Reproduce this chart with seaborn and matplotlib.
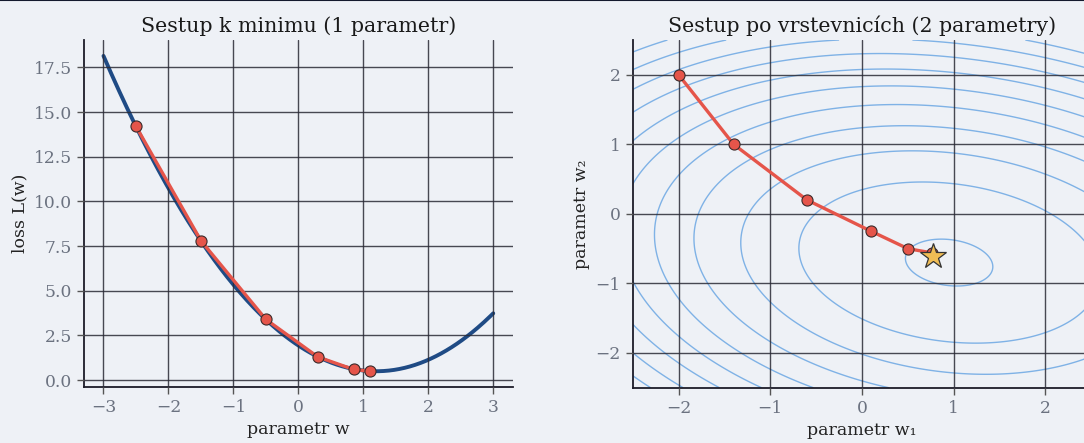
import matplotlib
matplotlib.use("Agg")
import matplotlib.pyplot as plt
import seaborn as sns
import numpy as np
from matplotlib.lines import Line2D

# ---- data -------------------------------------------------------------
# left panel: 1D loss curve L(w) = a*(w - w_min)^2 + L_min
curve_coef = [1.0, 1.2, 0.5]          # a, w_min, L_min
curve_range = [-3, 3]
steps_w = [-2.5, -1.5, -0.5, 0.3, 0.85, 1.1]
steps_L = [14.2, 7.8, 3.4, 1.3, 0.6, 0.5]

# right panel: quadratic bowl a*dx^2 + b*dy^2 + c*dx*dy around a centre
bowl_coef = [1.0, 2.0, 0.5]           # a, b, c
bowl_centre = [0.95, -0.7]
contour_levels = [0.22, 2.6, 5, 7.5, 10, 12.5, 15, 17.5, 20, 22.5, 25, 27.5, 30]
path_w1 = [-2.0, -1.4, -0.6, 0.1, 0.5, 0.76]
path_w2 = [2.0, 1.0, 0.2, -0.25, -0.5, -0.56]
star_w = [0.77, -0.6]

# ---- style ------------------------------------------------------------
bg = "#eef1f6"
sns.set_theme(style="whitegrid", rc={
    "axes.facecolor": bg,
    "figure.facecolor": bg,
    "axes.edgecolor": "#1c1c28",
    "grid.color": "#2a2a35",
    "grid.alpha": 0.85,
    "grid.linewidth": 1.0,
    "xtick.color": "#6b7280",
    "ytick.color": "#6b7280",
    "xtick.bottom": True,
    "ytick.left": True,
    "xtick.major.size": 5,
    "ytick.major.size": 5,
    "axes.labelcolor": "#222222",
})
plt.rcParams["font.family"] = ["DejaVu Serif"]

fig = plt.figure(figsize=(10.84, 4.43), dpi=100)
ax1 = fig.add_axes([0.0775, 0.1264, 0.3955, 0.783])
ax2 = fig.add_axes([0.5837, 0.1247, 0.423, 0.785])

red = "#e5554a"
navy = "#1f4b85"

# left panel
a, wm, Lm = curve_coef
w = np.linspace(curve_range[0], curve_range[1], 300)
sns.lineplot(x=w, y=a * (w - wm) ** 2 + Lm, ax=ax1, color=navy, lw=2.8)
ax1.plot(steps_w, steps_L, color=red, lw=2.4, marker="o", ms=8,
         mfc=red, mec="#3a2a2a", mew=0.8, zorder=4)
ax1.set_title("Sestup k minimu (1 parametr)", fontsize=14.8, color="#1a1a1a")
ax1.set_xlabel("parametr w", fontsize=12.5, labelpad=4)
ax1.set_ylabel("loss L(w)", fontsize=12.5)
ax1.set_yticks([0, 2.5, 5, 7.5, 10, 12.5, 15, 17.5])

# right panel
g1 = np.linspace(-2.5, 2.5, 400)
G1, G2 = np.meshgrid(g1, g1)
ba, bb, bc = bowl_coef
dx, dy = G1 - bowl_centre[0], G2 - bowl_centre[1]
Z = ba * dx ** 2 + bb * dy ** 2 + bc * dx * dy
ax2.contour(G1, G2, Z, levels=contour_levels, colors="#7fb2e6", linewidths=1.0)
ax2.plot(path_w1, path_w2, color=red, lw=2.4, marker="o", ms=8,
         mfc=red, mec="#3a2a2a", mew=0.8, zorder=4)
ax2.plot([star_w[0]], [star_w[1]], marker="*", ms=19, color="#f0bd55",
         mec="#333333", mew=0.9, zorder=5, linestyle="none")
ax2.set_xlim(-2.5, 2.5)
ax2.set_ylim(-2.5, 2.5)
ax2.set_xticks([-2, -1, 0, 1, 2])
ax2.set_yticks([-2, -1, 0, 1, 2])
ax2.set_title("Sestup po vrstevnicích (2 parametry)", fontsize=14.8, color="#1a1a1a")
ax2.set_xlabel("parametr w\u2081", fontsize=12.5, labelpad=4)
ax2.set_ylabel("parametr w\u2082", fontsize=12.5)

for ax in (ax1, ax2):
    sns.despine(ax=ax)
    ax.tick_params(labelsize=12.3, colors="#6b7280", width=1)
    ax.tick_params(axis="both", color="#555555")
    for s in ("left", "bottom"):
        ax.spines[s].set_linewidth(1.3)
    ax.set_axisbelow(False)
    ax.grid(True, zorder=1)

fig.add_artist(Line2D([0, 1], [0.999, 0.999], transform=fig.transFigure,
                      color="#141a2e", lw=1.5))

fig.savefig("out.png", dpi=100, facecolor=bg)
